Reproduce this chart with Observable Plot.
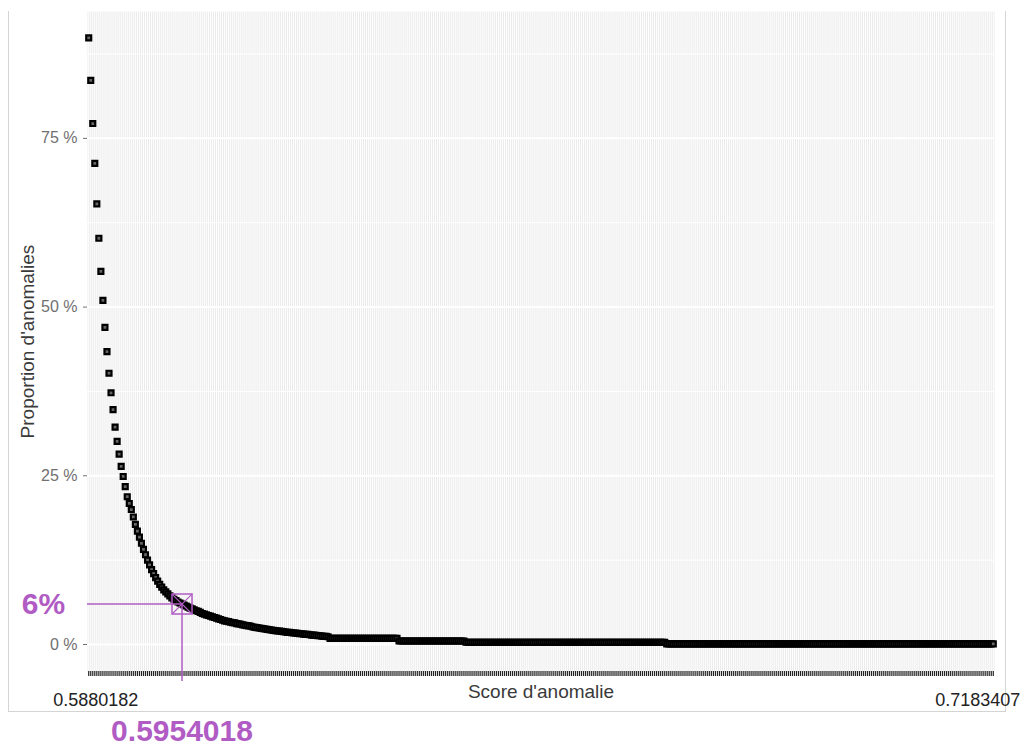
<!DOCTYPE html>
<html>
<head>
<meta charset="utf-8">
<script src="https://cdn.jsdelivr.net/npm/d3@7"></script>
<script src="https://cdn.jsdelivr.net/npm/@observablehq/plot@0.6"></script>
<style>
  html, body { margin: 0; padding: 0; background: #fff; }
  #chart { position: relative; width: 1028px; height: 749px; overflow: hidden; }
  #chart svg { position: absolute; left: 0; top: 0; }
  #border { position: absolute; left: 8px; top: 11px; width: 996px; height: 700px;
            border: 1.5px solid #d4d4d4; border-top: none; }
</style>
</head>
<body>
<div id="chart"><div id="border"></div></div>
<script>
// Share of observations flagged as anomalies (%) for each successive score threshold.
// Steep head of the curve, one value per threshold (thresholds 0..118).
const headPct = [
  89.9, 83.6, 77.2, 71.3, 65.3, 60.2, 55.3, 51.0, 47.0, 43.4,
  40.2, 37.3, 34.8, 32.2, 30.1, 28.2, 26.4, 24.9, 23.4, 21.9,
  20.9, 20.0, 18.9, 17.8, 16.8, 15.9, 15.0, 14.1, 13.3, 12.5,
  11.8, 11.1, 10.5, 9.9, 9.4, 8.9, 8.5, 8.1, 7.8, 7.5,
  7.2, 6.9, 6.7, 6.5, 6.3, 6.15, 6.0, 5.85, 5.7, 5.55,
  5.4, 5.3, 5.15, 5.0, 4.9, 4.75, 4.6, 4.5, 4.4, 4.3,
  4.2, 4.1, 4.0, 3.9, 3.8, 3.7, 3.6, 3.5, 3.45, 3.4,
  3.3, 3.25, 3.2, 3.1, 3.05, 3.0, 2.9, 2.85, 2.8, 2.75,
  2.7, 2.6, 2.55, 2.5, 2.45, 2.4, 2.35, 2.3, 2.25, 2.2,
  2.15, 2.1, 2.05, 2.0, 2.0, 1.95, 1.9, 1.85, 1.8, 1.8,
  1.75, 1.7, 1.7, 1.65, 1.6, 1.6, 1.55, 1.5, 1.5, 1.45,
  1.4, 1.4, 1.35, 1.3, 1.3, 1.25, 1.2, 1.2, 1.15
];
// Flat tail of the curve: [share %, number of consecutive thresholds at that share]
const tailRuns = [[0.9, 34], [0.52, 33], [0.33, 99], [0.1, 162]];

// Tick labels: only the lowest and highest score thresholds are printed
const firstScore = "0.5880182";
const lastScore = "0.7183407";

// Selected threshold
const chosenIndex = 46;
const chosenScore = "0.5954018";

// Y axis
const yTicks = [0, 25, 50, 75];
const yMinor = [12.5, 37.5, 62.5, 87.5];
const yDomain = [-4, 93.8];

const purple = "#b05cc4";
const font = "'Liberation Sans', Arial, sans-serif";

// one record per threshold
const pcts = headPct.slice();
for (const [v, n] of tailRuns) for (let k = 0; k < n; k++) pcts.push(v);
const points = pcts.map((pct, i) => ({i, pct}));
const thresholds = points.map(d => d.i);
const lastIndex = thresholds[thresholds.length - 1];
const chosen = [{i: chosenIndex, pct: headPct[chosenIndex], score: chosenScore}];

const chart = Plot.plot({
  width: 1028,
  height: 749,
  marginLeft: 87,
  marginRight: 34,
  marginTop: 11,
  marginBottom: 78,
  style: {fontFamily: font, background: "transparent", overflow: "visible"},
  x: {type: "point", domain: thresholds, padding: 0.6, round: false, axis: null},
  y: {domain: yDomain, axis: null},
  marks: [
    Plot.frame({fill: "#ebebeb", stroke: "none"}),
    Plot.ruleY(yMinor, {stroke: "white", strokeWidth: 1}),
    Plot.ruleY(yTicks, {stroke: "white", strokeWidth: 2}),
    Plot.ruleX(thresholds, {stroke: "white", strokeWidth: 1}),
    Plot.axisY({ticks: yTicks, tickFormat: d => `${d} %`, tickSize: 4, tickPadding: 6,
                fontSize: 16, color: "#707070", label: null}),
    Plot.axisX({ticks: thresholds, tickFormat: () => "", tickSize: 5, stroke: "#222",
                strokeWidth: 1.2, label: null}),
    Plot.text([{i: 0, label: firstScore}], {x: "i", text: "label", frameAnchor: "bottom",
               lineAnchor: "middle", textAnchor: "middle",
               dy: 29, dx: 7, fontSize: 18, fill: "#222"}),
    Plot.text([{i: lastIndex, label: lastScore}], {x: "i", text: "label", frameAnchor: "bottom",
               lineAnchor: "middle", textAnchor: "end",
               dy: 29, dx: 27, fontSize: 18, fill: "#222"}),
    Plot.text(["Score d'anomalie"], {frameAnchor: "bottom", lineAnchor: "middle", textAnchor: "middle",
               dy: 20, fontSize: 19, fill: "#3a3a3a"}),
    Plot.text(["Proportion d'anomalies"], {frameAnchor: "left", lineAnchor: "middle", textAnchor: "middle",
               dx: -60, rotate: -90, fontSize: 19, fill: "#3a3a3a"}),
    Plot.dot(points, {x: "i", y: "pct", symbol: "square", r: 2.8, stroke: "black",
                      strokeWidth: 2.2, fill: "#666"}),
    // selected threshold
    Plot.ruleY(chosen, {y: "pct", x1: () => 0, x2: "i", insetLeft: -1.2, stroke: purple, strokeWidth: 1.5}),
    Plot.ruleX(chosen, {x: "i", y1: "pct", y2: () => yDomain[0], insetBottom: -10,
                        stroke: purple, strokeWidth: 1.5}),
    Plot.dot(chosen, {x: "i", y: "pct", symbol: "square", r: 11.3, stroke: purple,
                      strokeWidth: 1.5, fill: "none"}),
    Plot.dot(chosen, {x: "i", y: "pct", symbol: "times", r: 9.1, stroke: purple, strokeWidth: 1.2}),
    Plot.text(chosen, {y: "pct", text: d => `${d.pct}%`, frameAnchor: "left",
                       lineAnchor: "middle", textAnchor: "middle", dx: -44,
                       fontSize: 30, fontWeight: "bold", fill: purple}),
    Plot.text(chosen, {x: "i", text: "score", frameAnchor: "bottom",
                       lineAnchor: "middle", textAnchor: "middle", dy: 60,
                       fontSize: 30, fontWeight: "bold", fill: purple})
  ]
});

document.getElementById("chart").appendChild(chart);
</script>
</body>
</html>
